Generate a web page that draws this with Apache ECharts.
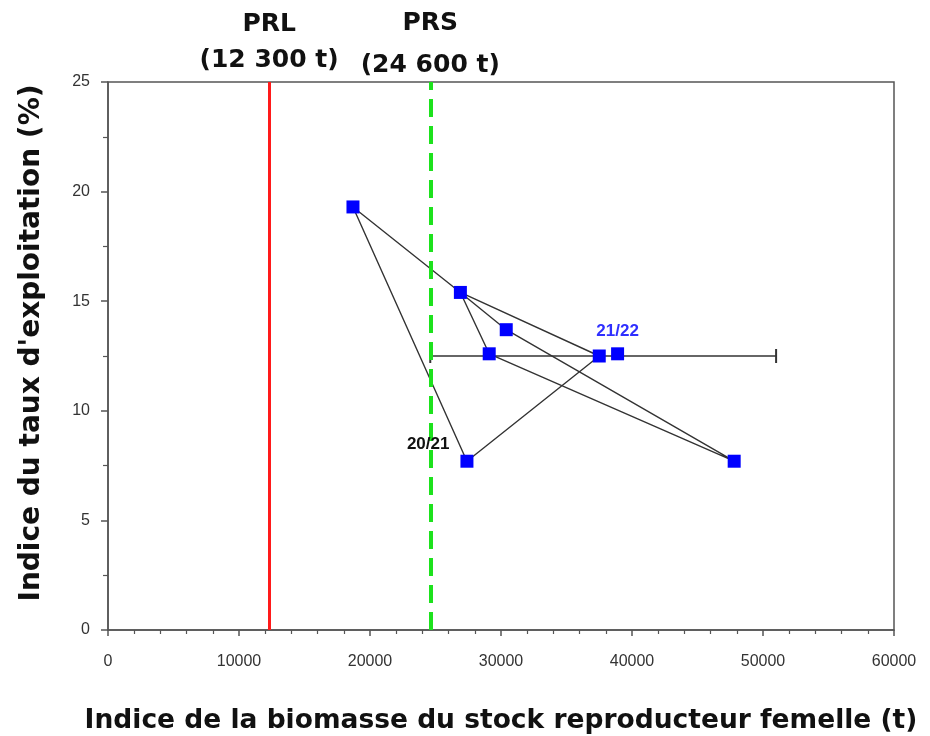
<!DOCTYPE html>
<html>
<head>
<meta charset="utf-8">
<script src="https://cdn.jsdelivr.net/npm/echarts@6/dist/echarts.min.js"></script>
<style>
html,body{margin:0;padding:0;background:#fff;}
#chart{width:930px;height:736px;}
</style>
</head>
<body>
<div id="chart"></div>
<script>
// Point values (biomass index t, exploitation index %)
const pointNames = ['A', 'B', 'C', 'D', 'E', 'F', 'G', 'H'];
const biomass = [18700, 26900, 30400, 29100, 37500, 38900, 27400, 47800];
const exploitation = [19.3, 15.4, 13.7, 12.6, 12.5, 12.6, 7.7, 7.7];
const pointLabels = ['', '', '', '', '', '21/22', '20/21', ''];
// Order in which connecting segments are drawn (indices into the arrays above)
const pathOrder = [6, 0, 1, 3, 7, 2, 1, 4, 6];
// Error bar on biomass for point E
const errorBarX = [24600, 51000];
const errorBarY = 12.5;
// Reference points
const refNames = ['PRL', 'PRS'];
const refValues = [12300, 24600];
const refLabels = ['(12 300 t)', '(24 600 t)'];
const xTicks = [0, 10000, 20000, 30000, 40000, 50000, 60000];
const yTicks = [0, 5, 10, 15, 20, 25];

const chart = echarts.init(document.getElementById('chart'));
const FONT = '"Liberation Sans", Arial, sans-serif';
const BOLD = '"DejaVu Sans", "Liberation Sans", Arial, sans-serif';
const NARROW = '"Liberation Sans Narrow", "Liberation Sans", Arial, sans-serif';

const pathData = pathOrder.map(i => [biomass[i], exploitation[i]]);
const pointData = biomass.map((b, i) => {
  const item = { value: [b, exploitation[i]] };
  if (pointLabels[i] === '21/22') {
    item.label = { show: true, formatter: pointLabels[i], position: 'top', distance: 7,
      color: '#2f2fff', fontSize: 17, fontWeight: 'bold', fontFamily: FONT };
  } else if (pointLabels[i] === '20/21') {
    item.label = { show: true, formatter: pointLabels[i], position: 'left', distance: 11,
      offset: [0, -17], color: '#111', fontSize: 17, fontWeight: 'bold', fontFamily: FONT };
  }
  return item;
});

const option = {
  backgroundColor: '#fff',
  animation: false,
  grid: { left: 108, right: 36, top: 82, bottom: 106, containLabel: false, outerBoundsMode: 'none',
    show: true, borderColor: '#555', borderWidth: 1.5, backgroundColor: 'transparent' },
  xAxis: {
    type: 'value', min: 0, max: 60000, interval: 10000,
    name: 'Indice de la biomasse du stock reproducteur femelle (t)',
    nameLocation: 'middle', nameGap: 78,
    nameTextStyle: { fontFamily: BOLD, fontWeight: 'bold', fontSize: 26.5, color: '#111' },
    axisLine: { lineStyle: { color: '#555', width: 1.5 } },
    axisTick: { show: true, length: 6, lineStyle: { color: '#555', width: 1.5 } },
    minorTick: { show: true, splitNumber: 5, length: 4, lineStyle: { color: '#555', width: 1.2 } },
    axisLabel: { margin: 24, fontFamily: NARROW, fontSize: 16, color: '#333',
      formatter: v => xTicks.includes(v) ? String(v) : '' },
    splitLine: { show: false }
  },
  yAxis: {
    type: 'value', min: 0, max: 25, interval: 5,
    name: "Indice du taux d'exploitation (%)",
    nameLocation: 'middle', nameGap: 62,
    nameTextStyle: { fontFamily: BOLD, fontWeight: 'bold', fontSize: 28, color: '#111', padding: [0, 0, 0, 26] },
    axisLine: { lineStyle: { color: '#555', width: 1.5 } },
    axisTick: { show: true, length: 7, lineStyle: { color: '#555', width: 1.5 } },
    minorTick: { show: true, splitNumber: 2, length: 5, lineStyle: { color: '#555', width: 1.2 } },
    axisLabel: { margin: 18, fontFamily: NARROW, fontSize: 16, color: '#333',
      formatter: v => yTicks.includes(v) ? String(v) : '' },
    splitLine: { show: false }
  },
  series: [
    {
      type: 'line', data: [], silent: true,
      markLine: {
        symbol: 'none', silent: true,
        data: [
          { xAxis: refValues[0], lineStyle: { color: '#ff1a1a', width: 3, type: 'solid' },
            label: { show: true, position: 'end', formatter: refNames[0] + '\n' + refLabels[0],
              distance: 4, fontFamily: BOLD, fontWeight: 'bold', fontSize: 25, color: '#111', lineHeight: 36 } },
          { xAxis: refValues[1], lineStyle: { color: '#1de21d', width: 4, type: [18, 9] },
            label: { show: true, position: 'end', formatter: refNames[1] + '\n' + refLabels[1],
              distance: -4, fontFamily: BOLD, fontWeight: 'bold', fontSize: 25, color: '#111', lineHeight: 42 } }
        ]
      }
    },
    {
      type: 'line', data: errorBarX.map(x => [x, errorBarY]),
      symbol: 'rect', symbolSize: [2, 14], showSymbol: true,
      itemStyle: { color: '#333' },
      lineStyle: { color: '#333', width: 1.5 }, silent: true, z: 3
    },
    {
      type: 'line', data: pathData, symbol: 'none',
      lineStyle: { color: '#333', width: 1.4 }, silent: true, z: 4
    },
    {
      type: 'scatter', data: pointData, symbol: 'rect', symbolSize: 13,
      itemStyle: { color: '#0000ff', opacity: 1 }, z: 5
    }
  ]
};
chart.setOption(option);
</script>
</body>
</html>
